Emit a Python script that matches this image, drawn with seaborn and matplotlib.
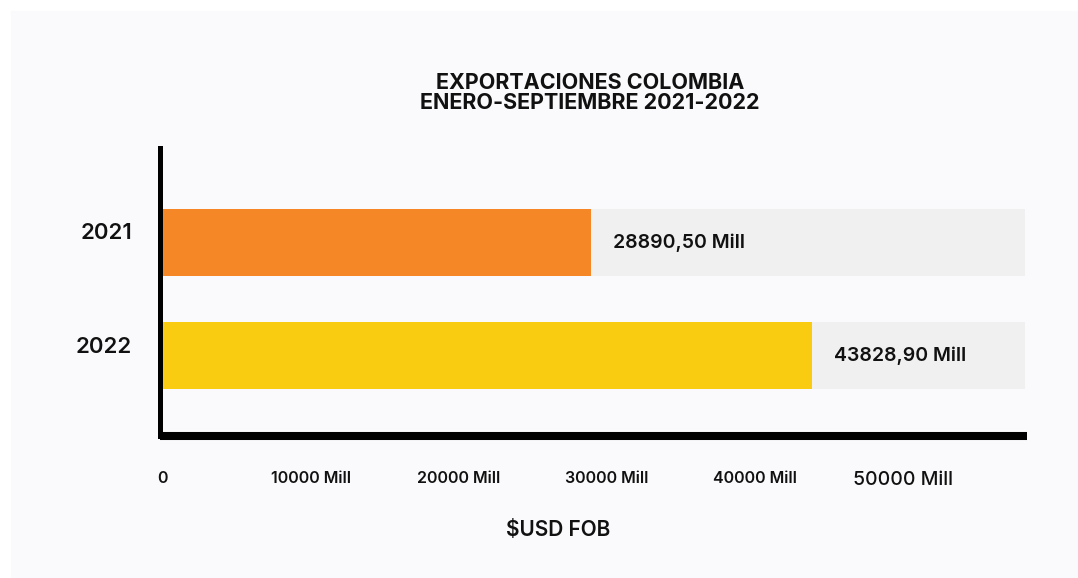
import matplotlib.pyplot as plt
import matplotlib.transforms as mtransforms
import seaborn as sns
import pandas as pd
from matplotlib.patches import Rectangle

# Data
years = ['2021', '2022']
values = [28890.50, 43828.90]
value_labels = ['28890,50 Mill', '43828,90 Mill']
track_max = [58240, 58240]
tick_values = [0, 10000, 20000, 30000, 40000, 50000]
tick_labels = ['0', '10000 Mill', '20000 Mill', '30000 Mill', '40000 Mill', '50000 Mill']
bar_colors = ['#f68726', '#f9cc11']

sns.set_style("white")
plt.rcParams['font.family'] = ['Inter', 'DejaVu Sans']

df = pd.DataFrame({'year': years, 'value': values, 'track': track_max})

W, H = 1078, 578
fig = plt.figure(figsize=(W / 100, H / 100), dpi=100)
fig.patch.set_facecolor('white')
# light panel behind the chart
panel = Rectangle((11 / W, -0.01), 1, 1.01 - 11 / H,
                  transform=fig.transFigure, color='#fafafc', zorder=-10)
fig.add_artist(panel)

ax = fig.add_axes([160 / W, 1 - 436 / H, (1027 - 160) / W, (436 - 148) / H])
ax.set_facecolor('none')
ax.set_zorder(1)

# grey tracks behind bars
sns.barplot(data=df, x='track', y='year', orient='h', color='#f0f0f0',
            width=0.593, ax=ax, saturation=1, linewidth=0)
sns.barplot(data=df, x='value', y='year', hue='year', orient='h',
            palette=bar_colors, width=0.593, ax=ax, saturation=1, legend=False,
            linewidth=0)

for i, (v, lab) in enumerate(zip(values, value_labels)):
    ax.text(v + 1500, i, lab, va='center', ha='left', fontsize=14,
            fontweight='semibold', color='#111111')

ax.set_xlim(-200, 58378)
ax.set_ylim(1.712, -0.836)

ax.set_xticks(tick_values)
ax.set_xticklabels(tick_labels, fontsize=11.5, fontweight='semibold', color='#111111')
ax.get_xticklabels()[-1].set_fontsize(14)
ax.get_xticklabels()[-1].set_fontweight('medium')
ax.tick_params(axis='x', length=0, pad=25)
ax.tick_params(axis='y', length=0, pad=20)
# year labels sit a bit above the bar centres
shift = mtransforms.ScaledTranslation(0, 11 / 100, fig.dpi_scale_trans)
for t in ax.get_yticklabels():
    t.set_fontsize(16)
    t.set_fontweight('semibold')
    t.set_color('#111111')
    t.set_transform(t.get_transform() + shift)

ax.set_xlabel('$USD FOB', fontsize=15, fontweight='semibold', labelpad=22, color='#111111')
ax.xaxis.set_label_coords((558 - 160) / 867, -0.29)
ax.set_ylabel('')

for s in ['top', 'right']:
    ax.spines[s].set_visible(False)
ax.spines['left'].set_linewidth(3.6)
ax.spines['left'].set_color('black')
ax.spines['bottom'].set_linewidth(5.8)
ax.spines['bottom'].set_color('black')
ax.spines['bottom'].set_capstyle('butt')

fig.text(590 / W, 1 - 93 / H, 'EXPORTACIONES COLOMBIA\nENERO-SEPTIEMBRE 2021-2022',
         ha='center', va='center', fontsize=15.5, fontweight='bold',
         linespacing=1.0, color='#111111')

fig.savefig('out.png', dpi=100, facecolor=fig.get_facecolor())
